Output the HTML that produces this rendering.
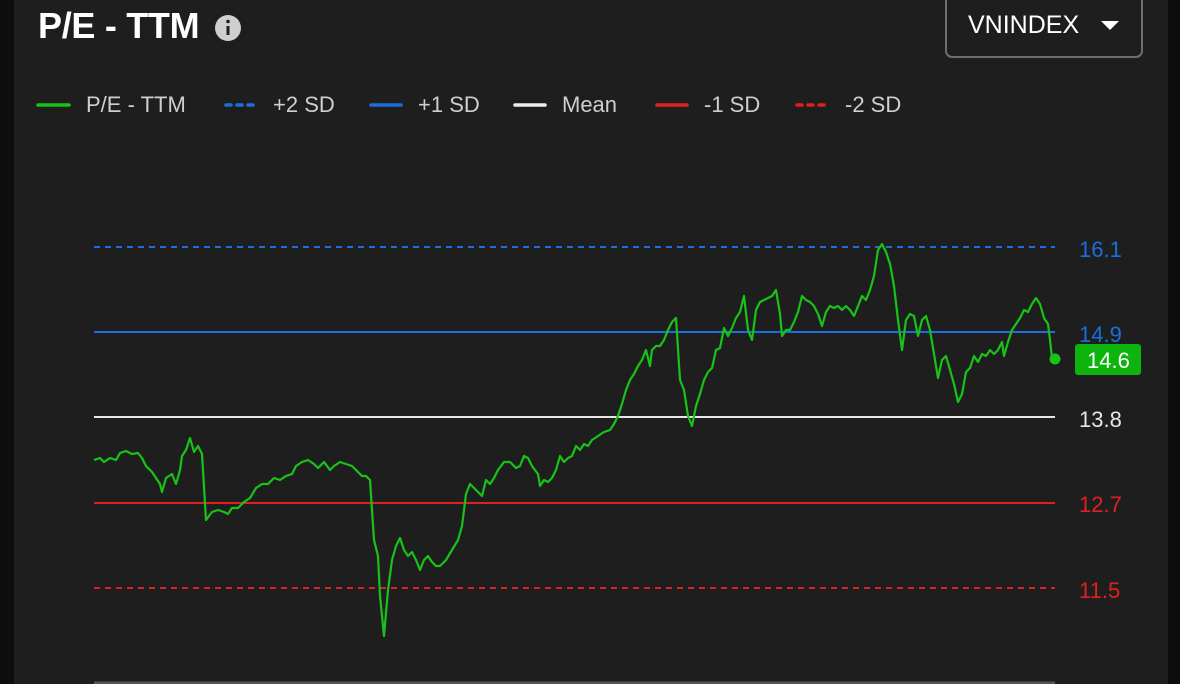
<!DOCTYPE html><html><head><style>
body{margin:0;width:1180px;height:684px;background:#0d0d0d;overflow:hidden;font-family:"Liberation Sans",sans-serif}
.p{position:absolute;left:14px;top:0;width:1154px;height:684px;background:#1e1e1e}
.t{position:absolute;left:38px;top:5px;font-size:36px;font-weight:bold;color:#fff;letter-spacing:-0.3px}
.btn{position:absolute;left:945px;top:-6px;width:198px;height:64px;border:2px solid #6e6e6e;border-radius:7px;box-sizing:border-box}
.lg{position:absolute;top:92px;font-size:22px;color:#cfcfcf}
</style></head><body><div class="p"></div>
<div class="t">P/E - TTM</div>
<svg style="position:absolute;left:0;top:0" width="1180" height="684">
<circle cx="228" cy="28" r="13" fill="#cfcfcf"/><rect x="226.5" y="26" width="3" height="9" fill="#1e1e1e"/><circle cx="228" cy="21.5" r="1.8" fill="#1e1e1e"/>
<polygon points="1101,21 1119,21 1110,30" fill="#fff"/>
<line x1="38" y1="105" x2="69" y2="105" stroke="#17c317" stroke-width="3.5" stroke-linecap="round"/>
<line x1="226" y1="105" x2="256" y2="105" stroke="#1a6fe0" stroke-width="3.5" stroke-dasharray="5 6" stroke-linecap="round"/>
<line x1="371" y1="105" x2="401" y2="105" stroke="#1a6fe0" stroke-width="3.5" stroke-linecap="round"/>
<line x1="515" y1="105" x2="545" y2="105" stroke="#eee" stroke-width="3.5" stroke-linecap="round"/>
<line x1="657" y1="105" x2="687" y2="105" stroke="#e02020" stroke-width="3.5" stroke-linecap="round"/>
<line x1="797" y1="105" x2="827" y2="105" stroke="#e02020" stroke-width="3.5" stroke-dasharray="5 6" stroke-linecap="round"/>
<g stroke-width="2">
<line x1="94" y1="247" x2="1055" y2="247" stroke="#1a6fe0" stroke-dasharray="6 5"/>
<line x1="94" y1="332" x2="1055" y2="332" stroke="#1a6fe0"/>
<line x1="94" y1="417" x2="1055" y2="417" stroke="#e6e6e6"/>
<line x1="94" y1="503" x2="1055" y2="503" stroke="#e02020"/>
<line x1="94" y1="588" x2="1055" y2="588" stroke="#e02020" stroke-dasharray="6 5"/>
<line x1="94" y1="683" x2="1055" y2="683" stroke="#555" stroke-width="3"/>
</g>
<polyline fill="none" stroke="#17c317" stroke-width="2.2" stroke-linejoin="round" points="94,460 100,458 104,462 110,458 116,460 120,453 126,451 132,454 138,453 142,458 146,466 152,472 156,478 160,484 162,492 166,478 172,474 176,484 180,470 182,456 186,450 190,438 194,452 198,446 202,454 206,520 212,512 218,510 224,512 228,514 232,508 238,508 244,502 250,498 256,488 262,484 268,484 274,478 280,480 286,476 292,474 296,466 302,462 308,460 314,464 318,468 324,462 330,470 334,466 340,462 346,464 352,466 356,470 362,476 366,476 370,480 374,540 378,556 380,596 384,636 388,590 392,560 396,546 400,538 404,550 408,556 412,552 416,560 420,570 424,560 428,556 432,562 436,566 440,566 446,560 452,550 458,540 462,526 466,494 470,484 474,488 478,492 482,496 486,480 490,484 494,478 498,470 504,462 510,462 516,468 520,466 524,456 528,458 532,466 538,474 540,486 544,480 548,482 552,478 556,470 560,456 564,462 568,458 572,456 576,446 580,450 584,444 588,446 592,440 598,436 604,432 610,430 614,424 618,416 622,404 626,390 630,380 634,374 638,366 642,360 646,350 650,366 652,350 656,346 660,346 664,340 668,330 672,322 676,318 680,380 684,390 688,416 692,426 696,406 700,394 704,380 708,372 712,368 716,350 720,348 724,328 728,336 732,328 736,318 740,312 744,296 748,330 752,340 756,310 760,302 764,300 768,298 772,296 776,290 780,314 782,336 786,330 790,330 794,322 798,312 802,296 806,300 810,302 814,306 818,314 822,326 826,312 830,306 834,308 838,306 842,310 846,306 850,310 854,316 858,306 862,296 866,300 870,290 874,276 878,250 882,244 886,252 890,264 894,286 898,320 902,350 906,320 910,314 914,316 918,336 922,320 926,316 930,330 934,354 938,378 942,360 946,356 950,370 954,384 958,402 962,394 966,372 970,368 974,356 978,362 982,354 986,356 990,350 994,354 998,350 1002,342 1004,356 1008,342 1012,330 1016,324 1020,318 1024,310 1028,312 1032,304 1036,298 1040,304 1044,318 1048,324 1050,340 1052,358 1055,359"/>
<circle cx="1055" cy="359" r="5.5" fill="#17c317"/>
<rect x="1075" y="344" width="66" height="31" rx="3" fill="#0db40d"/>
<g font-size="22" font-family="Liberation Sans,sans-serif">
<text x="1079" y="257" fill="#1a6fe0">16.1</text>
<text x="1079" y="342" fill="#1a6fe0">14.9</text>
<text x="1087" y="368" fill="#fff">14.6</text>
<text x="1079" y="427" fill="#e6e6e6">13.8</text>
<text x="1079" y="512" fill="#e02020">12.7</text>
<text x="1079" y="598" fill="#e02020">11.5</text>
</g>
</svg>
<div class="btn"></div>
<div style="position:absolute;left:968px;top:11px;font-size:25px;color:#fff">VNINDEX</div>
<div class="lg" style="left:86px">P/E - TTM</div>
<div class="lg" style="left:273px">+2 SD</div>
<div class="lg" style="left:418px">+1 SD</div>
<div class="lg" style="left:562px">Mean</div>
<div class="lg" style="left:704px">-1 SD</div>
<div class="lg" style="left:845px">-2 SD</div>
</body></html>
